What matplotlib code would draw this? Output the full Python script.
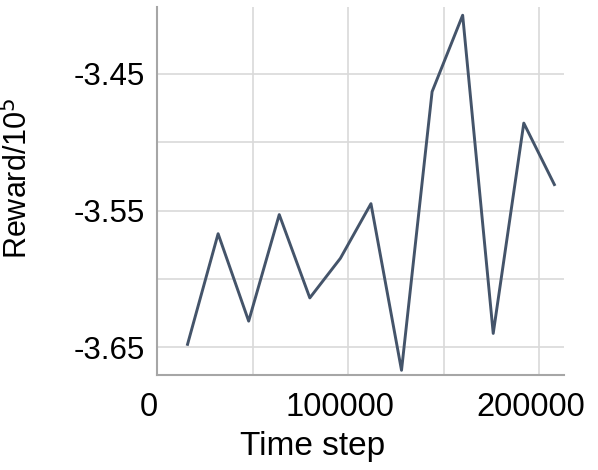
import matplotlib.pyplot as plt
import matplotlib.transforms as mtransforms

plt.rcParams['font.family'] = ['Liberation Sans', 'DejaVu Sans']

# reward curve, values in units of 1e5
time_step = [16000, 32000, 48000, 64000, 80000, 96000, 112000,
             128000, 144000, 160000, 176000, 192000, 208000]
reward = [-3.648, -3.567, -3.631, -3.553, -3.614, -3.585, -3.545,
          -3.667, -3.463, -3.407, -3.640, -3.486, -3.531]

y_ticks = [-3.45, -3.50, -3.55, -3.60, -3.65]
y_labels = ['-3.45', '', '-3.55', '', '-3.65']
x_ticks = [0, 50000, 100000, 150000, 200000]
x_labels = ['0', '', '100000', '', '200000']

fig = plt.figure(figsize=(5.98, 4.70), dpi=100)
ax = fig.add_axes([0.2625, 0.202, 0.943 - 0.2625, 0.985 - 0.202])

ax.plot(time_step, reward, color='#44546A', linewidth=2.1)

ax.set_xlim(0, 213000)
ax.set_ylim(-3.6705, -3.401)
ax.set_xticks(x_ticks)
ax.set_xticklabels(x_labels, fontsize=23.5)
ax.set_yticks(y_ticks)
ax.set_yticklabels(y_labels, fontsize=22.5)
ax.tick_params(length=0, pad=9)
ax.tick_params(axis='x', pad=12)

# x tick labels sit a little left of their gridlines in the original
shift = mtransforms.ScaledTranslation(-8 / 100, 0, fig.dpi_scale_trans)
for lab in ax.get_xticklabels():
    lab.set_transform(lab.get_transform() + shift)

ax.grid(True, color='#d9d9d9', linewidth=1.2)
ax.set_axisbelow(True)
for s in ['top', 'right']:
    ax.spines[s].set_visible(False)
for s in ['left', 'bottom']:
    ax.spines[s].set_color('#a6a6a6')
    ax.spines[s].set_linewidth(1.5)

ax.set_xlabel('Time step', fontsize=24)
ax.xaxis.set_label_coords(0.383, -0.152)
ax.set_ylabel('Reward/10$^5$', fontsize=22)
ax.yaxis.set_label_coords(-0.30, 0.535)

fig.savefig('out.png', dpi=100)
plt.close()
